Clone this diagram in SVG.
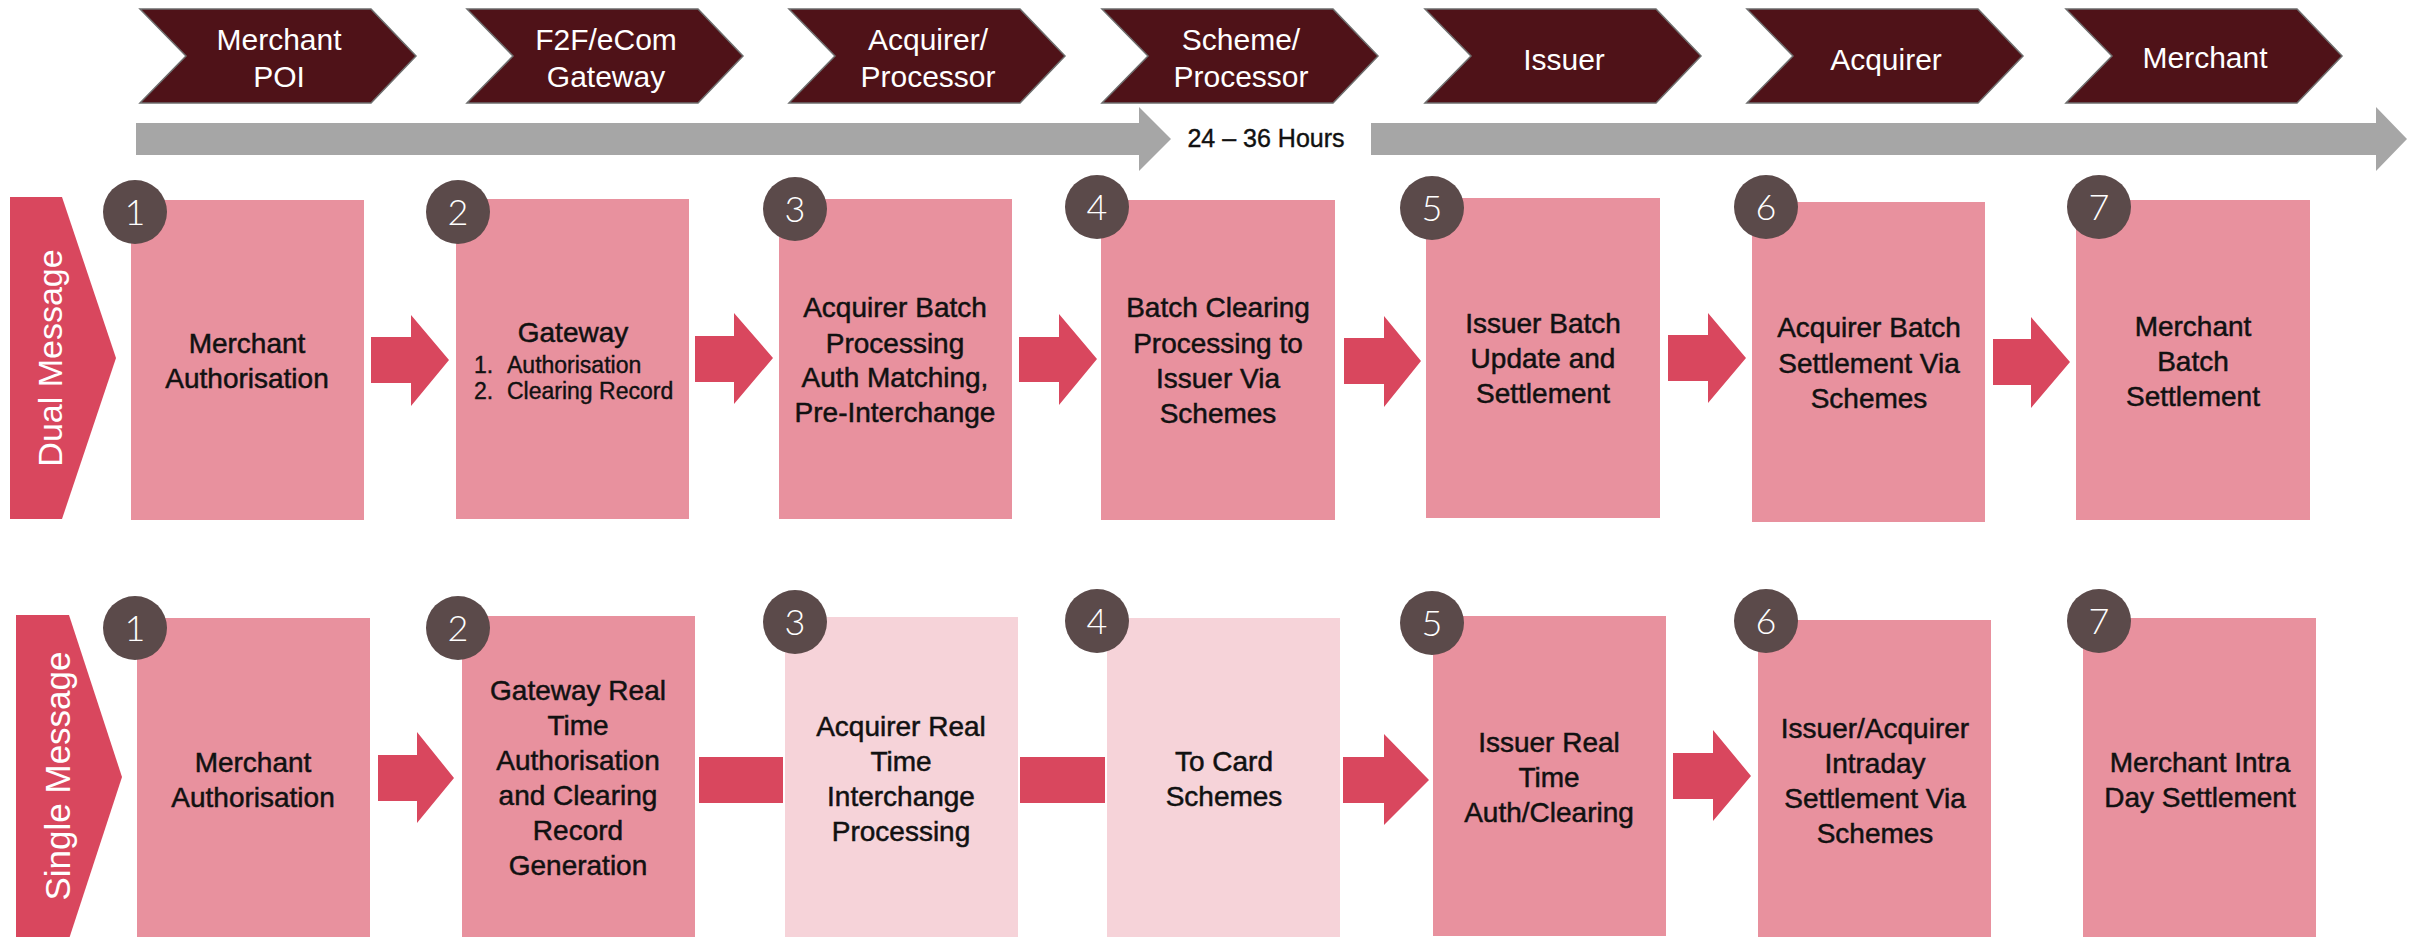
<svg xmlns="http://www.w3.org/2000/svg" width="2417" height="937" viewBox="0 0 2417 937">
  <style>
    .chev { fill: #4F1218; stroke: #6e6e6e; stroke-width: 1.5; }
    .chev-t { font-family: "Liberation Sans", Arial, sans-serif; font-size: 30px; fill: #ffffff; text-anchor: middle; }
    .time { fill: #A6A6A6; }
    .time-t { font-family: "Liberation Sans", Arial, sans-serif; font-size: 25px; fill: #111111; stroke: #111111; stroke-width: 0.4; text-anchor: middle; }
    .lane { fill: #D9475E; }
    .lane-t { font-family: "Liberation Sans", Arial, sans-serif; font-size: 34px; fill: #ffffff; text-anchor: middle; }
    .box { fill: #E8919E; }
    .box-lt { fill: #F6D3D9; }
    .box-t { font-family: "Liberation Sans", Arial, sans-serif; font-size: 28px; fill: #111111; stroke: #111111; stroke-width: 0.5; text-anchor: middle; }
    .list-t { font-family: "Liberation Sans", Arial, sans-serif; font-size: 23px; fill: #111111; stroke: #111111; stroke-width: 0.4; }
    .badge { fill: #5B4A4A; }
    .badge-t { font-family: Lato, "Liberation Sans", sans-serif; font-weight: 300; font-size: 36px; fill: #ffffff; text-anchor: middle; }
    .arrow { fill: #D9475E; }
  </style>

  <!-- participant chevrons -->
  <g id="stage-merchant-poi">
    <polygon class="chev" points="140,9 371,9 416,56 371,103 140,103 186,56"/>
    <text class="chev-t" x="279" y="50">Merchant</text>
    <text class="chev-t" x="279" y="87">POI</text>
  </g>
  <g id="stage-gateway">
    <polygon class="chev" points="467,9 698,9 743,56 698,103 467,103 513,56"/>
    <text class="chev-t" x="606" y="50">F2F/eCom</text>
    <text class="chev-t" x="606" y="87">Gateway</text>
  </g>
  <g id="stage-acquirer-processor">
    <polygon class="chev" points="789,9 1020,9 1065,56 1020,103 789,103 835,56"/>
    <text class="chev-t" x="928" y="50">Acquirer/</text>
    <text class="chev-t" x="928" y="87">Processor</text>
  </g>
  <g id="stage-scheme-processor">
    <polygon class="chev" points="1102,9 1333,9 1378,56 1333,103 1102,103 1148,56"/>
    <text class="chev-t" x="1241" y="50">Scheme/</text>
    <text class="chev-t" x="1241" y="87">Processor</text>
  </g>
  <g id="stage-issuer">
    <polygon class="chev" points="1425,9 1656,9 1701,56 1656,103 1425,103 1471,56"/>
    <text class="chev-t" x="1564" y="70">Issuer</text>
  </g>
  <g id="stage-acquirer">
    <polygon class="chev" points="1747,9 1978,9 2023,56 1978,103 1747,103 1793,56"/>
    <text class="chev-t" x="1886" y="70">Acquirer</text>
  </g>
  <g id="stage-merchant">
    <polygon class="chev" points="2066,9 2297,9 2342,56 2297,103 2066,103 2112,56"/>
    <text class="chev-t" x="2205" y="68">Merchant</text>
  </g>

  <!-- timeline -->
  <g id="timeline">
    <polygon class="time" points="136,123 1139,123 1139,107 1171,139 1139,171 1139,155 136,155"/>
    <text class="time-t" x="1266" y="147">24 – 36 Hours</text>
    <polygon class="time" points="1371,123 2376,123 2376,107 2407,139 2376,171 2376,155 1371,155"/>
  </g>

  <!-- lane labels -->
  <g id="lane-dual">
    <polygon class="lane" points="10,197 62,197 116,358 62,519 10,519"/>
    <text class="lane-t" transform="translate(62,358) rotate(-90)" x="0" y="0">Dual Message</text>
  </g>
  <g id="lane-single">
    <polygon class="lane" points="16,615 69,615 122,777 69,939 16,939"/>
    <text class="lane-t" style="font-size:35px" transform="translate(70,776) rotate(-90)" x="0" y="0">Single Message</text>
  </g>

  <!-- dual message steps -->
  <g id="dual-1">
    <rect class="box" x="131" y="200" width="233" height="320"/>
    <circle class="badge" cx="135" cy="212" r="32"/>
    <text class="badge-t" x="135" y="225">1</text>
    <text class="box-t" x="247" y="353">Merchant</text>
    <text class="box-t" x="247" y="388">Authorisation</text>
  </g>
  <g id="dual-2">
    <rect class="box" x="456" y="199" width="233" height="320"/>
    <circle class="badge" cx="458" cy="212" r="32"/>
    <text class="badge-t" x="458" y="225">2</text>
    <text class="box-t" x="573" y="342">Gateway</text>
    <text class="list-t" x="474" y="373">1.</text>
    <text class="list-t" x="507" y="373">Authorisation</text>
    <text class="list-t" x="474" y="399">2.</text>
    <text class="list-t" x="507" y="399">Clearing Record</text>
  </g>
  <g id="dual-3">
    <rect class="box" x="779" y="199" width="233" height="320"/>
    <circle class="badge" cx="795" cy="209" r="32"/>
    <text class="badge-t" x="795" y="222">3</text>
    <text class="box-t" x="895" y="317">Acquirer Batch</text>
    <text class="box-t" x="895" y="353">Processing</text>
    <text class="box-t" x="895" y="387">Auth Matching,</text>
    <text class="box-t" x="895" y="422">Pre-Interchange</text>
  </g>
  <g id="dual-4">
    <rect class="box" x="1101" y="200" width="234" height="320"/>
    <circle class="badge" cx="1097" cy="207" r="32"/>
    <text class="badge-t" x="1097" y="220">4</text>
    <text class="box-t" x="1218" y="317">Batch Clearing</text>
    <text class="box-t" x="1218" y="353">Processing to</text>
    <text class="box-t" x="1218" y="388">Issuer Via</text>
    <text class="box-t" x="1218" y="423">Schemes</text>
  </g>
  <g id="dual-5">
    <rect class="box" x="1426" y="198" width="234" height="320"/>
    <circle class="badge" cx="1432" cy="208" r="32"/>
    <text class="badge-t" x="1432" y="221">5</text>
    <text class="box-t" x="1543" y="333">Issuer Batch</text>
    <text class="box-t" x="1543" y="368">Update and</text>
    <text class="box-t" x="1543" y="403">Settlement</text>
  </g>
  <g id="dual-6">
    <rect class="box" x="1752" y="202" width="233" height="320"/>
    <circle class="badge" cx="1766" cy="207" r="32"/>
    <text class="badge-t" x="1766" y="220">6</text>
    <text class="box-t" x="1869" y="337">Acquirer Batch</text>
    <text class="box-t" x="1869" y="373">Settlement Via</text>
    <text class="box-t" x="1869" y="408">Schemes</text>
  </g>
  <g id="dual-7">
    <rect class="box" x="2076" y="200" width="234" height="320"/>
    <circle class="badge" cx="2099" cy="207" r="32"/>
    <text class="badge-t" x="2099" y="220">7</text>
    <text class="box-t" x="2193" y="336">Merchant</text>
    <text class="box-t" x="2193" y="371">Batch</text>
    <text class="box-t" x="2193" y="406">Settlement</text>
  </g>

  <!-- single message steps -->
  <g id="single-1">
    <rect class="box" x="137" y="618" width="233" height="319"/>
    <circle class="badge" cx="135" cy="628" r="32"/>
    <text class="badge-t" x="135" y="641">1</text>
    <text class="box-t" x="253" y="772">Merchant</text>
    <text class="box-t" x="253" y="807">Authorisation</text>
  </g>
  <g id="single-2">
    <rect class="box" x="462" y="616" width="233" height="321"/>
    <circle class="badge" cx="458" cy="628" r="32"/>
    <text class="badge-t" x="458" y="641">2</text>
    <text class="box-t" x="578" y="700">Gateway Real</text>
    <text class="box-t" x="578" y="735">Time</text>
    <text class="box-t" x="578" y="770">Authorisation</text>
    <text class="box-t" x="578" y="805">and Clearing</text>
    <text class="box-t" x="578" y="840">Record</text>
    <text class="box-t" x="578" y="875">Generation</text>
  </g>
  <g id="single-3">
    <rect class="box-lt" x="785" y="617" width="233" height="320"/>
    <circle class="badge" cx="795" cy="622" r="32"/>
    <text class="badge-t" x="795" y="635">3</text>
    <text class="box-t" x="901" y="736">Acquirer Real</text>
    <text class="box-t" x="901" y="771">Time</text>
    <text class="box-t" x="901" y="806">Interchange</text>
    <text class="box-t" x="901" y="841">Processing</text>
  </g>
  <g id="single-4">
    <rect class="box-lt" x="1107" y="618" width="233" height="319"/>
    <circle class="badge" cx="1097" cy="621" r="32"/>
    <text class="badge-t" x="1097" y="634">4</text>
    <text class="box-t" x="1224" y="771">To Card</text>
    <text class="box-t" x="1224" y="806">Schemes</text>
  </g>
  <g id="single-5">
    <rect class="box" x="1433" y="616" width="233" height="320"/>
    <circle class="badge" cx="1432" cy="623" r="32"/>
    <text class="badge-t" x="1432" y="636">5</text>
    <text class="box-t" x="1549" y="752">Issuer Real</text>
    <text class="box-t" x="1549" y="787">Time</text>
    <text class="box-t" x="1549" y="822">Auth/Clearing</text>
  </g>
  <g id="single-6">
    <rect class="box" x="1758" y="620" width="233" height="317"/>
    <circle class="badge" cx="1766" cy="621" r="32"/>
    <text class="badge-t" x="1766" y="634">6</text>
    <text class="box-t" x="1875" y="738">Issuer/Acquirer</text>
    <text class="box-t" x="1875" y="773">Intraday</text>
    <text class="box-t" x="1875" y="808">Settlement Via</text>
    <text class="box-t" x="1875" y="843">Schemes</text>
  </g>
  <g id="single-7">
    <rect class="box" x="2083" y="618" width="233" height="319"/>
    <circle class="badge" cx="2099" cy="621" r="32"/>
    <text class="badge-t" x="2099" y="634">7</text>
    <text class="box-t" x="2200" y="772">Merchant Intra</text>
    <text class="box-t" x="2200" y="807">Day Settlement</text>
  </g>

  <!-- connectors -->
  <g id="connectors">
    <polygon class="arrow" points="371,337 411,337 411,315 449,360 411,406 411,383 371,383"/>
    <polygon class="arrow" points="695,336 734,336 734,313 773,358 734,404 734,382 695,382"/>
    <polygon class="arrow" points="1019,337 1059,337 1059,314 1097,359 1059,405 1059,382 1019,382"/>
    <polygon class="arrow" points="1344,338 1384,338 1384,316 1421,361 1384,407 1384,384 1344,384"/>
    <polygon class="arrow" points="1668,335 1708,335 1708,313 1746,358 1708,403 1708,381 1668,381"/>
    <polygon class="arrow" points="1993,339 2031,339 2031,317 2070,362 2031,408 2031,385 1993,385"/>

    <polygon class="arrow" points="378,755 417,755 417,732 454,778 417,823 417,801 378,801"/>
    <rect class="arrow" x="699" y="757" width="84" height="46"/>
    <rect class="arrow" x="1020" y="757" width="85" height="46"/>
    <polygon class="arrow" points="1343,757 1384,757 1384,734 1429,780 1384,825 1384,803 1343,803"/>
    <polygon class="arrow" points="1673,753 1713,753 1713,730 1751,776 1713,821 1713,799 1673,799"/>
  </g>
</svg>
